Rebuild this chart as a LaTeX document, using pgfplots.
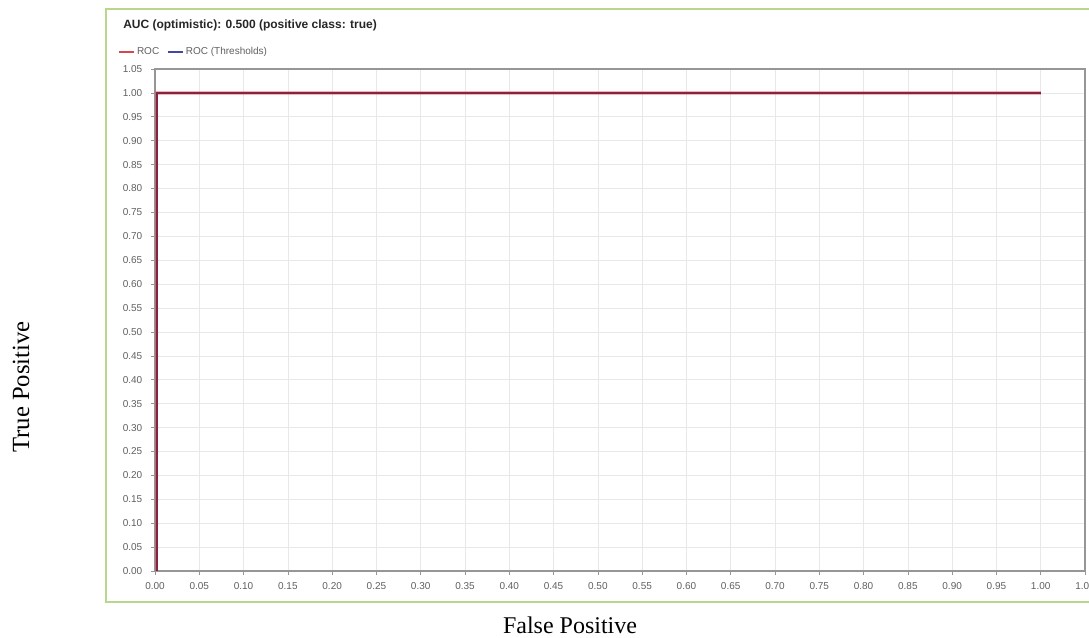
\documentclass[border=0pt]{standalone}
\usepackage{fontspec}
\setmainfont{Liberation Serif}
\newfontfamily\sansf{Liberation Sans}
\usepackage{pgfplots}
\pgfplotsset{compat=1.18}
\definecolor{boxgreen}{RGB}{184,214,140}
\definecolor{gridgray}{RGB}{232,232,232}
\definecolor{axgray}{RGB}{150,150,150}
\definecolor{lblgray}{RGB}{95,95,95}
\definecolor{rocred}{RGB}{214,70,80}
\definecolor{rocblue}{RGB}{70,70,160}
\definecolor{rocdark}{RGB}{135,35,65}
\begin{document}
\begin{tikzpicture}
\useasboundingbox (0,0) rectangle (816.75pt,-478.5pt);
\clip (0,0) rectangle (816.75pt,-478.5pt);
\draw[boxgreen, line width=1.2pt] (79.5pt,-6.75pt) rectangle (830pt,-451.5pt);
\node[anchor=west, font=\sansf\bfseries\fontsize{9}{10}\selectfont, text=black!85, inner sep=0pt] at (92.25pt,-18.75pt) {AUC (optimistic): 0.500 (positive class: true)};
\begin{axis}[
  at={(116.25pt,-428.25pt)}, anchor=south west,
  scale only axis, width=697.5pt, height=376.5pt,
  xmin=0, xmax=1.05, ymin=0, ymax=1.05,
  xtick={0,0.05,...,1.051}, ytick={0,0.05,...,1.051},
  /pgf/number format/.cd, fixed, fixed zerofill, precision=2, assume math mode=true,
  /pgfplots/.cd,
  ticklabel style={font=\sansf\fontsize{7.5}{8}\selectfont, text=lblgray},
  xticklabel style={yshift=-2pt},
  yticklabel style={xshift=-3pt},
  tick align=outside, major tick length=3pt,
  tick style={axgray, line width=0.5pt},
  xtick pos=bottom, ytick pos=left,
  axis line style={axgray, line width=0.8pt},
  grid=major, major grid style={gridgray, line width=0.5pt},
  legend style={at={(-0.044,1.034)}, anchor=west, draw=none, fill=none,
    font=\sansf\fontsize{7.5}{8}\selectfont, text=lblgray, legend columns=2,
    /tikz/every even column/.append style={column sep=4pt}},
  legend image code/.code={\draw[#1, line width=1pt] (0pt,0pt) -- (11pt,0pt);},
]
\addlegendimage{rocred}
\addlegendentry{ROC}
\addlegendimage{rocblue}
\addlegendentry{ROC (Thresholds)}
\addplot[rocred, line width=2.4pt, opacity=0.4, forget plot] coordinates {(0.002,0) (0.002,1) (1,1)};
\addplot[rocdark, line width=1.1pt, forget plot] coordinates {(0.002,0) (0.002,1) (1,1)};
\end{axis}
\node[rotate=90, inner sep=0pt, font=\fontsize{18.5}{20}\selectfont] at (15.75pt,-290.25pt) {True Positive};
\node[inner sep=0pt, font=\fontsize{18}{20}\selectfont] at (427.5pt,-468.75pt) {False Positive};
\end{tikzpicture}
\end{document}
